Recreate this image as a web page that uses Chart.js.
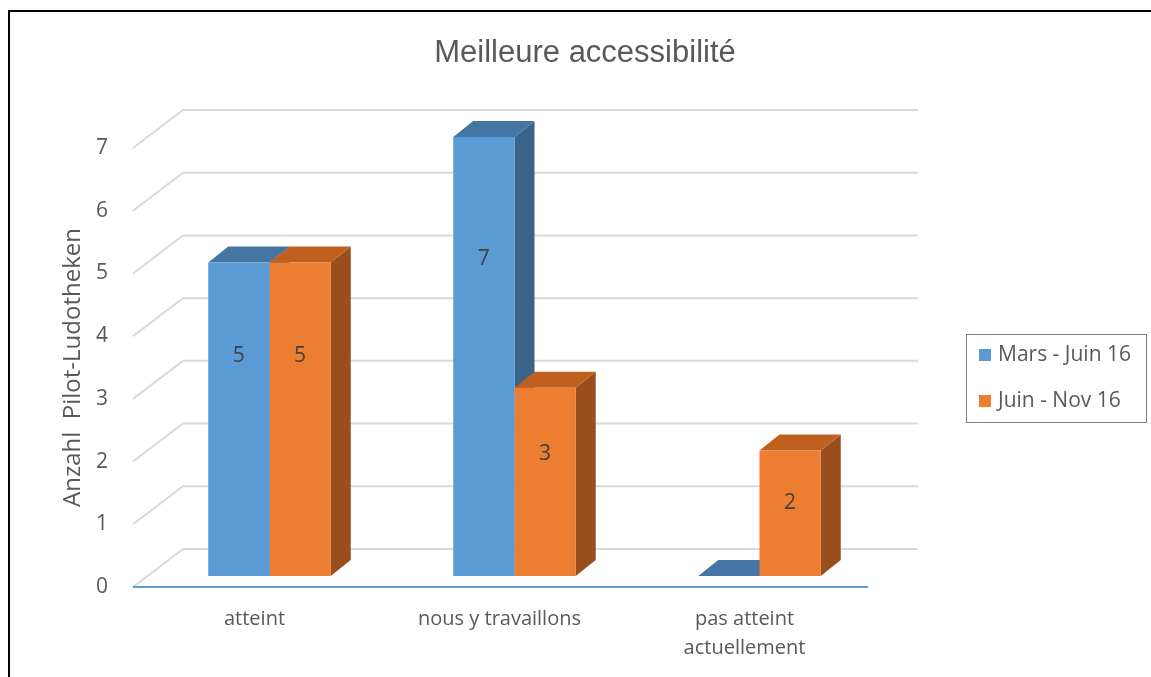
<!DOCTYPE html>
<html>
<head>
<meta charset="utf-8">
<script src="https://cdn.jsdelivr.net/npm/chart.js@4/dist/chart.umd.min.js"></script>
<style>
  html, body { margin: 0; padding: 0; background: #fff; }
  #wrap { position: relative; width: 1151px; height: 677px; overflow: hidden; }
  #wrap canvas { position: absolute; left: 0; top: 0; }
  /* only the top and left edges of the frame are in view */
  #frame { position: absolute; left: 8px; top: 10px; right: -10px; bottom: -10px;
           border-left: 2px solid #000; border-top: 2px solid #000; pointer-events: none; }
</style>
</head>
<body>
<div id="wrap">
  <canvas id="chart" width="1151" height="677" style="width:1151px;height:677px;"></canvas>
  <div id="frame"></div>
</div>
<script>
const chartTitle = 'Meilleure accessibilité';
const axisTitle = 'Anzahl  Pilot-Ludotheken';
const categories = ['atteint', 'nous y travaillons', ['pas atteint', 'actuellement']];
const seriesNames = ['Mars - Juin 16', 'Juin - Nov 16'];
const marsJuin = [5, 7, 0];
const juinNov = [5, 3, 2];
const yMax = 7;

const TEXT = '#595959';
const FONT = "'Open Sans', sans-serif";
// front, top and side shades for each series
const shades = [
  { front: '#5b9bd5', top: '#4475a3', side: '#3a6388' },
  { front: '#ed7d31', top: '#c0601f', side: '#9a4e1d' },
];

// 3D offsets, relative to the plane the bars stand in
const BAR = { dx: 20, dy: -16 };    // depth of one column
const FRONT = { dx: -14, dy: 11 };  // front edge of the floor
const BACK = { dx: 36, dy: -27 };   // back wall

const walls = {
  id: 'walls',
  beforeDatasetsDraw(chart) {
    const { ctx, chartArea: a } = chart;
    const ys = chart.scales.y;
    ctx.save();
    ctx.lineWidth = 2;
    ctx.strokeStyle = '#d9d9d9';
    for (let v = 0; v <= yMax; v++) {
      const y = ys.getPixelForValue(v);
      ctx.beginPath();
      ctx.moveTo(a.left + FRONT.dx, y + FRONT.dy);
      ctx.lineTo(a.left + BACK.dx, y + BACK.dy);
      ctx.lineTo(a.right + BACK.dx, y + BACK.dy);
      ctx.stroke();
    }
    // blue floor edge
    const y0 = ys.getPixelForValue(0) + FRONT.dy;
    ctx.strokeStyle = '#5b9bd5';
    ctx.beginPath();
    ctx.moveTo(a.left + FRONT.dx, y0);
    ctx.lineTo(a.right + FRONT.dx, y0);
    ctx.stroke();

    // sides and tops of the columns; the library paints the fronts over them
    const n = chart.data.labels.length;
    for (let j = 0; j < n; j++) {
      chart.data.datasets.forEach((ds, i) => {
        const bar = chart.getDatasetMeta(i).data[j];
        const l = bar.x - bar.width / 2, r = bar.x + bar.width / 2;
        if (bar.base - bar.y > 0.5) {
          ctx.fillStyle = shades[i].side;
          ctx.beginPath();
          ctx.moveTo(r, bar.y);
          ctx.lineTo(r + BAR.dx, bar.y + BAR.dy);
          ctx.lineTo(r + BAR.dx, bar.base + BAR.dy);
          ctx.lineTo(r, bar.base);
          ctx.closePath();
          ctx.fill();
        }
        ctx.fillStyle = shades[i].top;
        ctx.beginPath();
        ctx.moveTo(l, bar.y);
        ctx.lineTo(r, bar.y);
        ctx.lineTo(r + BAR.dx, bar.y + BAR.dy);
        ctx.lineTo(l + BAR.dx, bar.y + BAR.dy);
        ctx.closePath();
        ctx.fill();
      });
    }
    ctx.restore();
  },
  afterDatasetsDraw(chart) {
    const { ctx } = chart;
    const ys = chart.scales.y;
    ctx.save();
    ctx.font = '21px ' + FONT;
    ctx.fillStyle = '#404040';
    ctx.textAlign = 'center';
    ctx.textBaseline = 'middle';
    chart.data.datasets.forEach((ds, i) => {
      chart.getDatasetMeta(i).data.forEach((bar, j) => {
        const v = ds.data[j];
        if (!v) return;
        // Excel puts the 3D label a bit above the middle of the column
        ctx.fillText(String(v), bar.x, ys.getPixelForValue(0.78 * v - 0.4));
      });
    });
    ctx.restore();
  },
  afterDraw(chart) {
    const { ctx } = chart;
    const ys = chart.scales.y;
    ctx.save();
    // chart title
    ctx.fillStyle = TEXT;
    ctx.font = "31px 'Liberation Sans', Arial, sans-serif";
    ctx.textAlign = 'center';
    ctx.textBaseline = 'middle';
    ctx.fillText(chartTitle, 585, 53);

    // y axis title, centred on the front plane
    ctx.save();
    ctx.translate(73, (ys.top + ys.bottom) / 2 + FRONT.dy);
    ctx.rotate(-Math.PI / 2);
    ctx.font = '24px ' + FONT;
    ctx.fillText(axisTitle, 0, 0);
    ctx.restore();

    // legend in its grey box
    ctx.strokeStyle = '#808080';
    ctx.lineWidth = 1;
    ctx.strokeRect(966.5, 334.5, 180, 88);
    ctx.font = '21px ' + FONT;
    ctx.textAlign = 'left';
    seriesNames.forEach((name, i) => {
      const cy = 355 + i * 46;
      ctx.fillStyle = shades[i].front;
      ctx.fillRect(979, cy - 6, 12, 12);
      ctx.fillStyle = TEXT;
      ctx.fillText(name, 998, cy);
    });
    ctx.restore();
  },
};

new Chart(document.getElementById('chart'), {
  type: 'bar',
  data: {
    labels: categories,
    datasets: [
      { label: seriesNames[0], data: marsJuin, backgroundColor: shades[0].front },
      { label: seriesNames[1], data: juinNov, backgroundColor: shades[1].front },
    ],
  },
  options: {
    responsive: false,
    animation: false,
    devicePixelRatio: 1,
    categoryPercentage: 0.5,
    barPercentage: 1,
    layout: { padding: { top: 137, right: 269, left: 0, bottom: 0 } },
    plugins: { legend: { display: false }, title: { display: false }, tooltip: { enabled: false } },
    scales: {
      x: {
        grid: { display: false },
        border: { display: false },
        ticks: { color: TEXT, font: { family: FONT, size: 20, lineHeight: 1.45 }, padding: 21, labelOffset: -15, maxRotation: 0 },
        afterFit: (s) => { s.height = 101; },
      },
      y: {
        min: 0,
        max: yMax,
        grid: { display: false },
        border: { display: false },
        ticks: { stepSize: 1, color: TEXT, font: { family: FONT, size: 21 }, padding: 31, labelOffset: 11 },
        afterFit: (s) => { s.width = 147; },
      },
    },
  },
  plugins: [walls],
});
</script>
</body>
</html>
